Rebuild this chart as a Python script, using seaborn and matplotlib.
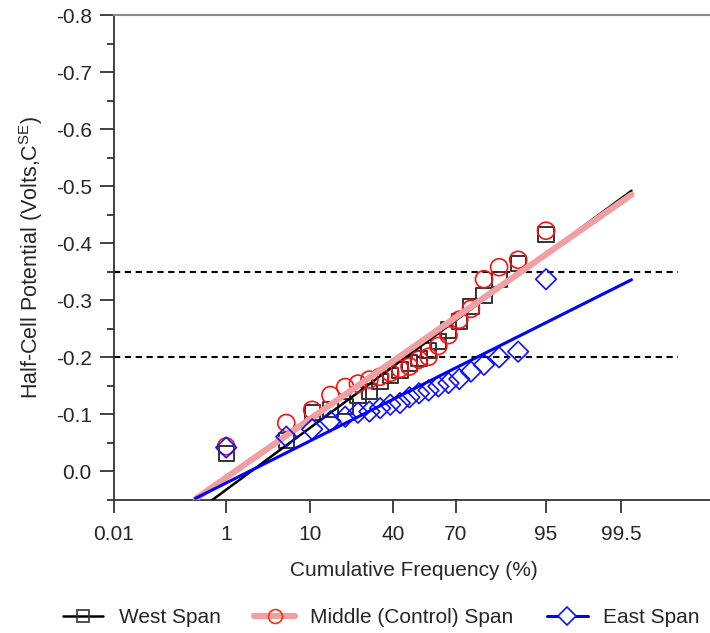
from statistics import NormalDist

import matplotlib

matplotlib.use("Agg")
import matplotlib.pyplot as plt
import numpy as np
import seaborn as sns
from matplotlib.lines import Line2D
from matplotlib.ticker import FixedLocator, MultipleLocator, NullLocator

# cumulative frequency (%) of each reading
pct = [1, 5.7, 10.4, 15.1, 19.8, 24.5, 29.2, 33.9, 38.6, 43.3, 48,
       52.7, 57.4, 62.1, 66.8, 71.5, 76.2, 80.9, 85.6, 90.3, 95]

west = [-0.031, -0.054, -0.103, -0.108, -0.114, -0.134, -0.140, -0.158,
        -0.168, -0.178, -0.190, -0.198, -0.212, -0.228, -0.248, -0.263,
        -0.289, -0.309, -0.337, -0.365, -0.415]
middle = [-0.044, -0.085, -0.108, -0.134, -0.148, -0.154, -0.161, -0.166,
          -0.173, -0.180, -0.184, -0.196, -0.201, -0.220, -0.239, -0.266,
          -0.285, -0.337, -0.358, -0.371, -0.422]
east = [-0.042, -0.061, -0.074, -0.088, -0.096, -0.103, -0.105, -0.111,
        -0.117, -0.120, -0.130, -0.137, -0.142, -0.149, -0.155, -0.162,
        -0.175, -0.187, -0.200, -0.210, -0.337]

# normal fit lines (end points)
fit_pct = [0.34, 99.66]
west_fit = [0.0715, -0.492]
middle_fit = [0.048, -0.485]
east_fit = [0.047, -0.336]

xticks = [0.01, 1, 10, 40, 70, 95, 99.5]
xticklabels = ["0.01", "1", "10", "40", "70", "95", "99.5"]
thresholds = [-0.35, -0.2]

sns.set_style("ticks")
plt.rcParams["font.family"] = ["Liberation Sans", "DejaVu Sans"]
plt.rcParams["axes.unicode_minus"] = False
plt.rcParams["mathtext.default"] = "regular"

nd = NormalDist()


def _ppf1(p):
    if np.isnan(p):
        return np.nan
    return nd.inv_cdf(min(max(p / 100.0, 1e-12), 1 - 1e-12))


def _cdf1(z):
    if np.isnan(z):
        return np.nan
    return nd.cdf(z) * 100.0


_ppf = np.vectorize(_ppf1, otypes=[float])
_cdf = np.vectorize(_cdf1, otypes=[float])


def forward(p):
    return _ppf(np.asarray(p, dtype=float))


def inverse(z):
    return _cdf(np.asarray(z, dtype=float))


fig = plt.figure(figsize=(7.1, 6.33), dpi=100)
ax = fig.add_axes([0.1606, 0.2101, 0.8437, 0.7662])
ax.set_xscale("function", functions=(forward, inverse))

sns.scatterplot(x=pct, y=west, marker="s", s=120, facecolor="none",
                edgecolor="#333333", linewidth=1.4, ax=ax, zorder=3)
sns.lineplot(x=fit_pct, y=west_fit, color="black", lw=1.8, ax=ax, zorder=4)
sns.scatterplot(x=pct, y=middle, marker="o", s=150, facecolor="none",
                edgecolor="#ff1010", linewidth=1.2, ax=ax, zorder=5)
sns.lineplot(x=fit_pct, y=middle_fit, color="#f0a0a2", lw=4.5, ax=ax, zorder=6)
sns.scatterplot(x=pct, y=east, marker="D", s=110, facecolor="none",
                edgecolor="#1010ff", linewidth=1.2, ax=ax, zorder=7)
sns.lineplot(x=fit_pct, y=east_fit, color="#0000ff", lw=2.2, ax=ax, zorder=8)

for t in thresholds:
    ax.axhline(t, xmin=0, xmax=0.9415, color="black", lw=1.5,
               dashes=(3, 2.2), zorder=2)

ax.set_xlim(0.01, 99.99)
ax.set_ylim(0.05, -0.8)
ax.xaxis.set_major_locator(FixedLocator(xticks))
ax.xaxis.set_minor_locator(NullLocator())
ax.set_xticklabels(xticklabels)
ax.yaxis.set_major_locator(MultipleLocator(0.1))
ax.yaxis.set_minor_locator(MultipleLocator(0.05))
ax.yaxis.set_major_formatter(matplotlib.ticker.FormatStrFormatter("%.1f"))

ax.tick_params(axis="both", which="major", length=9, width=1.2,
               labelsize=15, color="#222222", direction="out")
ax.tick_params(axis="x", which="major", pad=9)
ax.tick_params(axis="y", which="major", length=10, pad=6)
ax.tick_params(axis="y", which="minor", length=5, width=1.2, color="#222222")

for side in ["left", "bottom"]:
    ax.spines[side].set_color("#333333")
    ax.spines[side].set_linewidth(1.3)
ax.spines["top"].set_color("#8a8a8a")
ax.spines["top"].set_linewidth(1.5)
ax.spines["right"].set_visible(False)

ax.set_xlabel("Cumulative Frequency (%)", fontsize=15, labelpad=12)
ax.set_ylabel("Half-Cell Potential (Volts,C$^{SE}$)", fontsize=15.5,
              labelpad=7.5)

handles = [
    Line2D([], [], color="black", lw=1.8, marker="s", ms=8.5, mfc="none",
           mec="#333333", mew=1.2),
    Line2D([], [], color="#f0a0a2", lw=4.5, marker="o", ms=10, mfc="none",
           mec="#ff3010", mew=1.2),
    Line2D([], [], color="#0000ff", lw=2.2, marker="D", ms=9, mfc="white",
           mec="#1010ff", mew=1.2),
]
labels = ["West Span", "Middle (Control) Span", "East Span"]
fig.legend(handles, labels, loc="center", bbox_to_anchor=(0.537, 0.0237),
           ncol=3, frameon=False, fontsize=15, handlelength=1.95,
           handletextpad=0.75, columnspacing=1.6, borderpad=0.2)

fig.savefig("out.png", dpi=100)
